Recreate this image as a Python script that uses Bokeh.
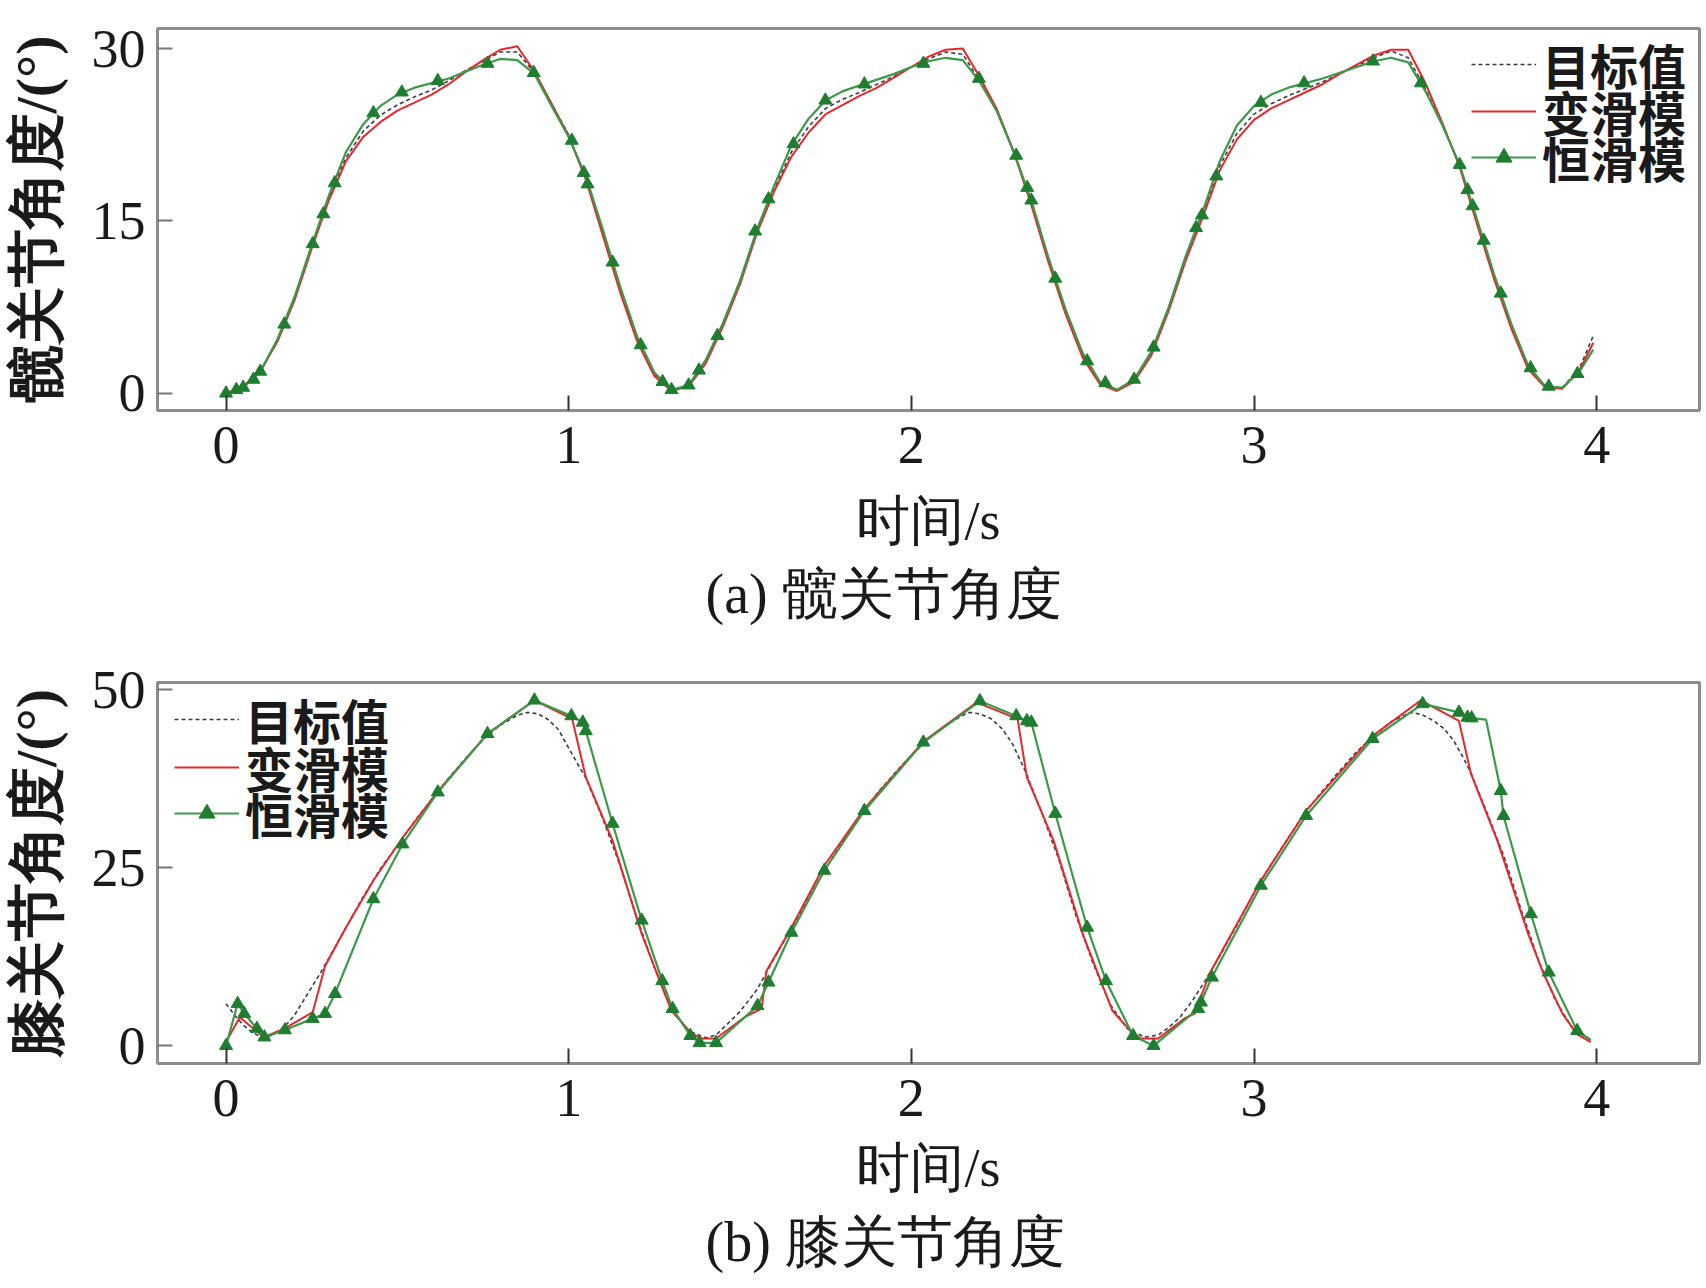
from bokeh.plotting import figure
from bokeh.models import Range1d, FixedTicker, Legend, LegendItem, Title
from bokeh.layouts import column
from bokeh.embed import file_html
from bokeh.resources import INLINE

# ---------------- data ----------------
X_TICKS = [0, 1, 2, 3, 4]
HIP_Y_TICKS = [0, 15, 30]
KNEE_Y_TICKS = [0, 25, 50]

SERIES_NAMES = ["目标值", "变滑模", "恒滑模"]

# hip joint angle (deg) on a shared time grid (s)
T_HIP = [0.00, 0.05, 0.10, 0.15, 0.20, 0.25, 0.30, 0.35, 0.40, 0.45,
         0.50, 0.55, 0.60, 0.65, 0.70, 0.75, 0.80, 0.85, 0.90, 0.95,
         1.00, 1.05, 1.10, 1.15, 1.20, 1.25, 1.30, 1.35, 1.40, 1.45,
         1.50, 1.55, 1.60, 1.65, 1.70, 1.75, 1.80, 1.85, 1.90, 1.95,
         2.00, 2.05, 2.10, 2.15, 2.20, 2.25, 2.30, 2.35, 2.40, 2.45,
         2.50, 2.55, 2.60, 2.65, 2.70, 2.75, 2.80, 2.85, 2.90, 2.95,
         3.00, 3.05, 3.10, 3.15, 3.20, 3.25, 3.30, 3.35, 3.40, 3.45,
         3.50, 3.55, 3.60, 3.65, 3.70, 3.75, 3.80, 3.85, 3.90, 3.95,
         3.99]
HIP_TARGET = [0.0, 0.5, 1.9, 4.6, 8.3, 12.8, 17.0, 20.5, 22.8, 24.2,
              25.1, 25.8, 26.4, 27.2, 28.1, 28.9, 29.7, 29.7, 27.9, 25.2,
              22.5, 18.7, 13.9, 9.0, 4.7, 1.7, 0.3, 0.7, 2.8, 6.0,
              9.7, 14.2, 17.8, 21.0, 23.2, 24.8, 25.6, 26.2, 26.9, 27.6,
              28.4, 29.1, 29.7, 29.5, 27.2, 24.6, 21.0, 16.6, 11.6, 7.1,
              3.3, 0.9, 0.3, 1.2, 3.6, 7.4, 11.8, 15.6, 19.8, 22.6,
              24.3, 25.2, 25.9, 26.5, 27.1, 27.8, 28.5, 29.2, 29.8, 29.2,
              26.5, 23.4, 19.8, 15.0, 10.2, 5.9, 2.3, 0.6, 0.5, 2.2,
              5.0]
HIP_VAR = [0.0, 0.6, 1.9, 4.5, 8.1, 12.6, 16.8, 20.2, 22.3, 23.6,
           24.6, 25.3, 26.0, 26.9, 28.0, 29.0, 29.9, 30.2, 28.0, 25.2,
           22.4, 18.6, 13.7, 8.8, 4.5, 1.5, 0.2, 0.6, 2.6, 5.8,
           9.5, 14.0, 17.6, 20.6, 22.7, 24.3, 25.1, 25.9, 26.6, 27.5,
           28.4, 29.3, 29.9, 30.0, 27.5, 24.7, 20.9, 16.4, 11.4, 6.9,
           3.1, 0.8, 0.2, 1.0, 3.3, 7.1, 11.5, 15.3, 19.4, 22.1,
           23.8, 24.8, 25.5, 26.2, 26.9, 27.8, 28.6, 29.4, 29.9, 29.9,
           27.0, 23.5, 19.7, 14.8, 10.0, 5.7, 2.1, 0.5, 0.4, 2.0,
           4.4]
HIP_CONST = [0.0, 0.5, 1.9, 4.7, 8.4, 12.9, 17.2, 21.0, 23.4, 25.0,
             26.0, 26.6, 27.0, 27.4, 28.0, 28.6, 29.1, 29.0, 27.8, 25.0,
             22.3, 18.9, 14.2, 9.3, 4.9, 1.8, 0.3, 0.7, 2.9, 6.1,
             9.8, 14.3, 18.1, 21.6, 23.9, 25.5, 26.3, 26.8, 27.3, 27.8,
             28.4, 28.9, 29.2, 29.0, 27.1, 24.5, 20.9, 16.8, 11.8, 7.3,
             3.5, 1.0, 0.3, 1.2, 3.6, 7.4, 11.9, 15.8, 20.2, 23.3,
             25.0, 26.0, 26.6, 27.0, 27.4, 27.9, 28.4, 28.9, 29.2, 28.8,
             26.3, 23.3, 19.9, 15.2, 10.4, 6.1, 2.4, 0.6, 0.5, 1.9,
             3.8]
# markers on the constant sliding mode curve (hip)
HIP_CONST_MK_T = [0.00, 0.03, 0.05, 0.08, 0.10, 0.17, 0.253, 0.284, 0.317, 0.43,
                  0.513, 0.618, 0.763, 0.898, 1.009, 1.044, 1.055, 1.128, 1.21, 1.274,
                  1.30, 1.35, 1.38, 1.434, 1.544, 1.583, 1.656, 1.749, 1.863, 2.035,
                  2.197, 2.306, 2.338, 2.35, 2.42, 2.513, 2.566, 2.65, 2.707, 2.831,
                  2.848, 2.89, 3.02, 3.146, 3.347, 3.487, 3.60, 3.623, 3.638, 3.67,
                  3.72, 3.807, 3.86, 3.944]
HIP_CONST_MK_V = [0.0, 0.3, 0.5, 1.2, 1.9, 6.0, 13.0, 15.6, 18.3, 24.4,
                  26.2, 27.2, 28.7, 27.9, 22.0, 19.2, 18.2, 11.4, 4.2, 1.0,
                  0.3, 0.7, 2.0, 5.0, 14.1, 16.9, 21.7, 25.5, 26.9, 28.7,
                  27.4, 20.7, 17.9, 16.8, 10.0, 2.8, 0.9, 1.2, 4.0, 14.4,
                  15.5, 18.9, 25.3, 27.0, 28.9, 27.0, 19.9, 17.7, 16.3, 13.3,
                  8.7, 2.2, 0.6, 1.7]

# knee joint angle (deg)
T_KNEE_TARGET = [0.00, 0.03, 0.05, 0.075, 0.10, 0.13, 0.17, 0.20, 0.232, 0.274,
                 0.30, 0.35, 0.40, 0.45, 0.50, 0.55, 0.60, 0.65, 0.70, 0.75,
                 0.80, 0.85, 0.88, 0.91, 0.94, 0.97, 1.00, 1.034, 1.05, 1.10,
                 1.15, 1.20, 1.25, 1.30, 1.35, 1.40, 1.43, 1.46, 1.50, 1.55,
                 1.60, 1.65, 1.70, 1.75, 1.80, 1.85, 1.90, 1.95, 2.00, 2.05,
                 2.10, 2.15, 2.17, 2.20, 2.233, 2.265, 2.295, 2.335, 2.38, 2.43,
                 2.48, 2.53, 2.58, 2.63, 2.68, 2.72, 2.75, 2.784, 2.82, 2.857,
                 2.90, 2.95, 3.00, 3.05, 3.10, 3.15, 3.20, 3.25, 3.30, 3.35,
                 3.40, 3.458, 3.49, 3.525, 3.555, 3.583, 3.61, 3.633, 3.68, 3.73,
                 3.78, 3.83, 3.88, 3.93, 3.98]
KNEE_TARGET = [5.9, 4.0, 2.9, 1.9, 1.3, 1.4, 2.6, 4.3, 6.8, 10.1,
               12.3, 16.6, 20.9, 24.8, 28.1, 31.5, 34.6, 37.6, 40.4, 43.0,
               45.0, 46.4, 46.8, 46.6, 45.8, 44.4, 41.8, 38.9, 37.6, 31.8,
               25.3, 17.8, 11.0, 5.2, 2.1, 1.1, 1.5, 2.9, 4.8, 7.9,
               12.3, 16.5, 20.7, 24.9, 28.7, 32.2, 35.4, 38.2, 40.8, 43.1,
               45.0, 46.4, 46.8, 46.6, 45.9, 44.5, 42.4, 38.3, 32.8, 26.2,
               18.3, 11.6, 5.8, 2.4, 1.2, 1.5, 2.5, 4.0, 6.3, 9.1,
               12.6, 16.9, 21.5, 25.5, 29.2, 32.8, 35.8, 38.6, 41.3, 43.5,
               45.5, 46.8, 46.5, 45.6, 44.5, 42.8, 40.5, 38.3, 32.7, 26.5,
               19.0, 12.0, 6.3, 2.4, 0.8]
T_KNEE_VAR = [0.00, 0.04, 0.11, 0.17, 0.253, 0.289, 0.35, 0.43, 0.515, 0.618,
              0.763, 0.90, 1.01, 1.05, 1.128, 1.213, 1.273, 1.30, 1.355, 1.385,
              1.43, 1.513, 1.563, 1.577, 1.65, 1.746, 1.863, 2.035, 2.19, 2.31,
              2.337, 2.415, 2.50, 2.56, 2.587, 2.642, 2.67, 2.72, 2.80, 2.827,
              2.87, 3.02, 3.152, 3.346, 3.487, 3.598, 3.633, 3.71, 3.80, 3.845,
              3.90, 3.943, 3.983]
KNEE_VAR = [0.5, 4.0, 1.2, 2.4, 4.7, 11.2, 16.6, 23.2, 29.2, 35.7,
            43.8, 48.5, 45.9, 37.7, 28.8, 15.7, 8.2, 4.9, 1.9, 1.0,
            1.0, 4.0, 5.2, 10.5, 16.6, 25.3, 33.3, 42.7, 48.2, 45.9,
            37.7, 28.8, 15.7, 8.2, 4.9, 1.9, 1.0, 1.0, 3.9, 4.5,
            10.1, 23.2, 33.0, 43.5, 48.5, 45.6, 38.2, 28.8, 15.7, 10.1,
            4.5, 1.6, 0.5]
T_KNEE_CONST = [0.00, 0.034, 0.053, 0.09, 0.112, 0.172, 0.253, 0.289, 0.318, 0.43,
                0.515, 0.618, 0.763, 0.90, 1.008, 1.041, 1.05, 1.128, 1.213, 1.273,
                1.303, 1.355, 1.382, 1.43, 1.551, 1.583, 1.65, 1.746, 1.863, 2.035,
                2.20, 2.306, 2.337, 2.35, 2.42, 2.513, 2.568, 2.647, 2.707, 2.837,
                2.845, 2.877, 3.02, 3.152, 3.346, 3.492, 3.598, 3.623, 3.635, 3.677,
                3.72, 3.728, 3.808, 3.86, 3.943, 3.983]
KNEE_CONST = [0.0, 5.9, 4.5, 2.4, 1.2, 2.2, 3.8, 4.5, 7.3, 20.6,
              28.3, 35.6, 43.8, 48.5, 46.3, 45.4, 44.2, 31.2, 17.6, 9.1,
              5.2, 1.4, 0.4, 0.4, 5.6, 8.9, 15.9, 24.6, 33.0, 42.6,
              48.4, 46.3, 45.6, 45.4, 32.6, 16.6, 9.1, 1.4, 0.0, 5.2,
              6.1, 9.6, 22.5, 32.3, 43.1, 48.0, 46.8, 46.1, 46.0, 45.8,
              35.8, 32.3, 18.5, 10.3, 2.1, 0.8]
KNEE_CONST_MK_T = [0.00, 0.034, 0.053, 0.09, 0.112, 0.172, 0.253, 0.289, 0.318, 0.43,
                   0.515, 0.618, 0.763, 0.90, 1.008, 1.041, 1.05, 1.128, 1.213, 1.273,
                   1.303, 1.355, 1.382, 1.43, 1.551, 1.583, 1.65, 1.746, 1.863, 2.035,
                   2.20, 2.306, 2.337, 2.35, 2.42, 2.513, 2.568, 2.647, 2.707, 2.837,
                   2.845, 2.877, 3.02, 3.152, 3.346, 3.492, 3.598, 3.623, 3.635,
                   3.72, 3.728, 3.808, 3.86, 3.943]
KNEE_CONST_MK_V = [0.0, 5.9, 4.5, 2.4, 1.2, 2.2, 3.8, 4.5, 7.3, 20.6,
                   28.3, 35.6, 43.8, 48.5, 46.3, 45.4, 44.2, 31.2, 17.6, 9.1,
                   5.2, 1.4, 0.4, 0.4, 5.6, 8.9, 15.9, 24.6, 33.0, 42.6,
                   48.4, 46.3, 45.6, 45.4, 32.6, 16.6, 9.1, 1.4, 0.0, 5.2,
                   6.1, 9.6, 22.5, 32.3, 43.1, 48.0, 46.8, 46.1, 46.0,
                   35.8, 32.3, 18.5, 10.3, 2.1]

# ---------------- style ----------------
C_TARGET = "#3c3c46"
C_VAR = "#e8262b"
C_CONST = "#3a9a48"
C_MARK = "#1f7d30"
SERIF = "Liberation Serif"
CJK = "Noto Sans CJK SC"


def make_fig(height, top, bottom, y_range, y_ticks, y_label, caption,
             axis_standoff, cap_standoff):
    p = figure(width=1704, height=height, output_backend="svg", toolbar_location=None,
               x_range=Range1d(-0.2, 4.3), y_range=y_range,
               min_border_left=156, min_border_right=5,
               min_border_top=top, min_border_bottom=bottom)
    p.background_fill_color = "white"
    p.border_fill_color = "white"
    p.outline_line_color = "#8c8c8c"
    p.outline_line_width = 3
    p.xgrid.visible = False
    p.ygrid.visible = False
    for ax in (p.xaxis, p.yaxis):
        ax.axis_line_color = None
        ax.minor_tick_line_color = None
        ax.major_tick_in = 15
        ax.major_tick_out = 0
        ax.major_tick_line_width = 2
        ax.major_label_text_font = SERIF
        ax.major_label_text_font_size = "54px"
        ax.major_label_text_color = "#1a1a1a"
        ax.axis_label_text_font = SERIF
        ax.axis_label_text_font_size = "54px"
        ax.axis_label_text_color = "#1a1a1a"
        ax.axis_label_text_font_style = "normal"
    p.xaxis.major_tick_line_color = "#333333"
    p.yaxis.major_tick_line_color = "#777777"
    p.xaxis.ticker = FixedTicker(ticks=X_TICKS)
    p.yaxis.ticker = FixedTicker(ticks=y_ticks)
    p.xaxis.major_label_standoff = 16
    p.yaxis.major_label_standoff = 12
    p.xaxis.axis_label = "时间/s"
    p.xaxis.axis_label_standoff = axis_standoff
    p.yaxis.axis_label = y_label
    p.yaxis.axis_label_standoff = 20
    p.yaxis.axis_label_text_font_size = "58px"
    p.yaxis.axis_label_text_font_style = "bold"
    # caption left-aligned with an offset so that it sits where it does in the original
    p.add_layout(Title(text=caption, align="left", text_font=SERIF,
                       text_font_size="56px", text_font_style="normal",
                       text_color="#1a1a1a", standoff=cap_standoff, offset=548), "below")
    return p


def add_legend(p, renderers_list, x0, y_list):
    # one single-item legend per row so that the rows can sit as tight as in the original
    for name, rends, y in zip(SERIES_NAMES, renderers_list, y_list):
        leg = Legend(items=[LegendItem(label=name, renderers=rends)], location=(x0, y),
                     border_line_color=None, background_fill_alpha=0,
                     padding=0, margin=0, spacing=0,
                     label_text_font=CJK, label_text_font_size="48px",
                     label_text_font_style="bold", label_text_color="#1a1a1a",
                     glyph_width=65, glyph_height=40, label_height=40, label_standoff=6)
        p.add_layout(leg)


# ---- hip ----
p1 = make_fig(643, 28, 233, Range1d(-1.5, 31.75), HIP_Y_TICKS, "髋关节角度/(°)",
              "(a) 髋关节角度", 25, 14)
r1 = p1.line(T_HIP, HIP_TARGET, line_color=C_TARGET, line_width=1.6, line_dash="4 3")
r2 = p1.line(T_HIP, HIP_VAR, line_color=C_VAR, line_width=2)
r3 = p1.line(T_HIP, HIP_CONST, line_color=C_CONST, line_width=2.2)
r3m = p1.scatter(HIP_CONST_MK_T, HIP_CONST_MK_V, marker="triangle", size=13,
                 fill_color=C_MARK, line_color=C_MARK)
add_legend(p1, [[r1], [r2], [r3, r3m]], 1314, [311, 264, 218])

# ---- knee ----
p2 = make_fig(643, 39, 223, Range1d(-2.5, 51.0), KNEE_Y_TICKS, "膝关节角度/(°)",
              "(b) 膝关节角度", 19, 16)
k1 = p2.line(T_KNEE_TARGET, KNEE_TARGET, line_color=C_TARGET, line_width=1.6, line_dash="4 3")
k2 = p2.line(T_KNEE_VAR, KNEE_VAR, line_color=C_VAR, line_width=2)
k3 = p2.line(T_KNEE_CONST, KNEE_CONST, line_color=C_CONST, line_width=2.2)
k3m = p2.scatter(KNEE_CONST_MK_T, KNEE_CONST_MK_V, marker="triangle", size=13,
                 fill_color=C_MARK, line_color=C_MARK)
add_legend(p2, [[k1], [k2], [k3, k3m]], 17, [309, 261, 215])

layout = column(p1, p2, spacing=0)
open("out.html", "w").write(file_html(layout, INLINE))
